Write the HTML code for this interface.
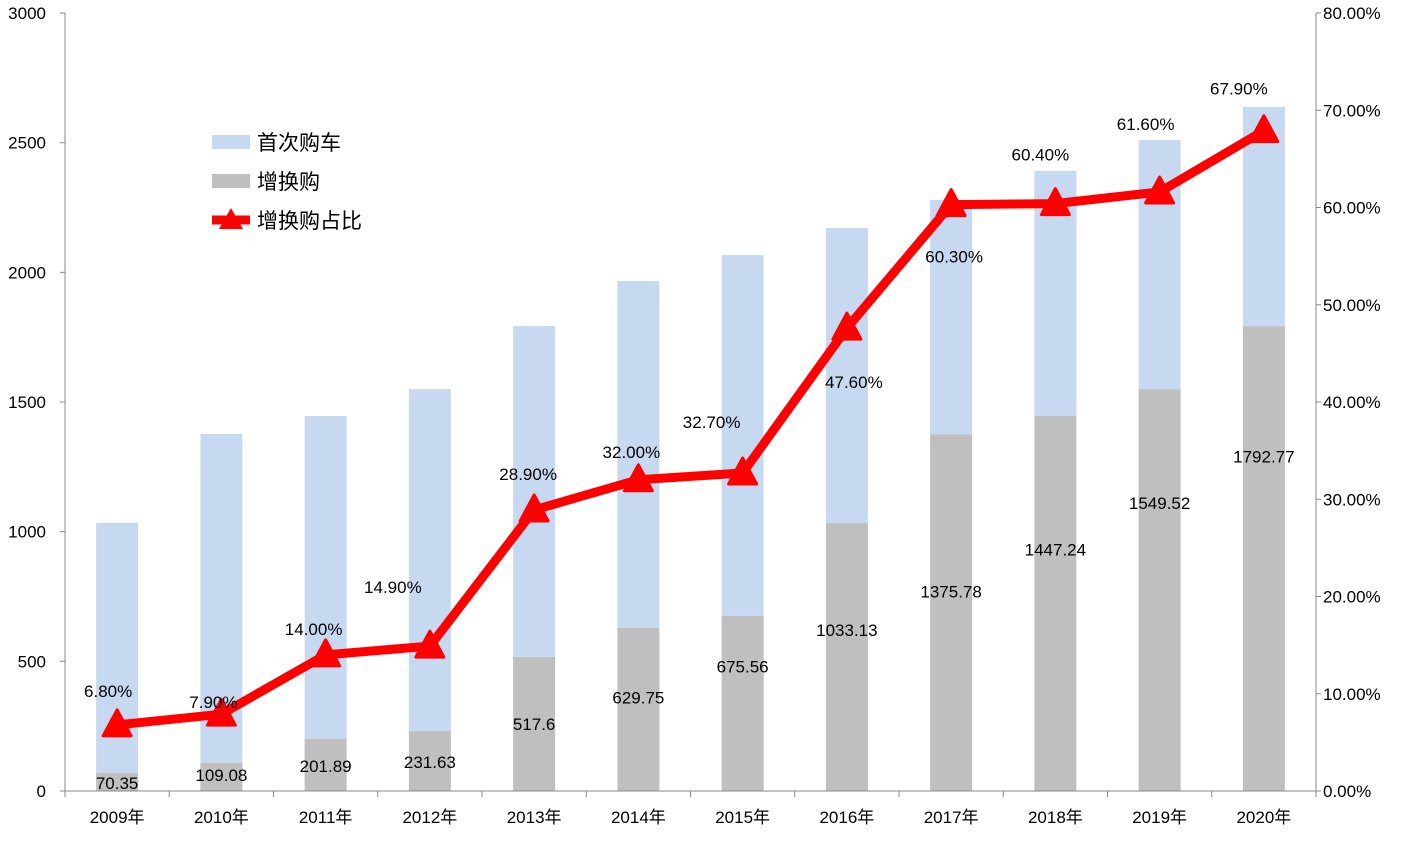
<!DOCTYPE html>
<html><head><meta charset="utf-8"><style>
body{margin:0;background:#fff}
svg{display:block;font-family:"Liberation Sans","Noto Sans CJK SC",sans-serif}
</style></head><body>
<svg id="c" width="1406" height="845"></svg>
<script>
const categories=["2009年","2010年","2011年","2012年","2013年","2014年","2015年","2016年","2017年","2018年","2019年","2020年"];
const replaceVals=[70.35,109.08,201.89,231.63,517.6,629.75,675.56,1033.13,1375.78,1447.24,1549.52,1792.77];
const firstVals=[964,1268,1244,1318,1275,1337,1391,1138,903,944,961,845];
const shareVals=[6.8,7.9,14.0,14.9,28.9,32.0,32.7,47.6,60.3,60.4,61.6,67.9];
const leftTicks=[0,500,1000,1500,2000,2500,3000];
const rightTicks=[0,10,20,30,40,50,60,70,80];
const lblDx=[-9,-8,-12,-37,-6,-7,-31,7,3,-15,-14,-25];
const lblDy=[-34,-12,-26,-59,-36,-28,-51,54,52,-49,-68,-42];
const barLblDy=[1,-2,1,1,0,-12,-37,-27,-21,-54,-87,-102];
const NS="http://www.w3.org/2000/svg";
const svg=document.getElementById('c');
const X0=65,X1=1316,Y0=791,Y1=13;
const bw=(X1-X0)/categories.length;
const xc=i=>X0+bw*(i+0.5);
const yL=v=>Y0-(v/3000)*(Y0-Y1);
const yR=v=>Y0-(v/80)*(Y0-Y1);
function el(t,a,txt){const e=document.createElementNS(NS,t);for(const k in a)e.setAttribute(k,a[k]);if(txt!=null)e.textContent=txt;svg.appendChild(e);return e;}
categories.forEach((c,i)=>{
 const r=el('rect',{x:xc(i)-21,y:yL(replaceVals[i]),width:42,height:Y0-yL(replaceVals[i]),fill:'#bfbfbf'});
 
 
 const tot=replaceVals[i]+firstVals[i];
 const f=el('rect',{x:xc(i)-21,y:yL(tot),width:42,height:yL(replaceVals[i])-yL(tot),fill:'#c6d9f1'});
 
 
});
el('line',{x1:X0,y1:Y1,x2:X0,y2:Y0,stroke:'#888'});
el('line',{x1:X1,y1:Y1,x2:X1,y2:Y0,stroke:'#888'});
el('line',{x1:X0,y1:Y0,x2:X1,y2:Y0,stroke:'#888'});
for(let i=0;i<=categories.length;i++)el('line',{x1:X0+bw*i,y1:Y0,x2:X0+bw*i,y2:Y0+6,stroke:'#888'});
leftTicks.forEach(v=>{el('line',{x1:X0-5,y1:yL(v),x2:X0,y2:yL(v),stroke:'#888'});
 const t=el('text',{x:46,y:yL(v)+6,'text-anchor':'end','font-size':17},v);
 });
rightTicks.forEach(v=>{el('line',{x1:X1,y1:yR(v),x2:X1+5,y2:yR(v),stroke:'#888'});
 const t=el('text',{x:1323,y:yR(v)+6,'font-size':17},v.toFixed(2)+'%');
 });
categories.forEach((c,i)=>{const t=el('text',{x:xc(i),y:823,'text-anchor':'middle','font-size':17},c);
 });
categories.forEach((c,i)=>{const t=el('text',{x:xc(i),y:(yL(replaceVals[i])+Y0)/2+barLblDy[i]+6,'text-anchor':'middle','font-size':17},replaceVals[i]);
 });
const pts=shareVals.map((v,i)=>xc(i)+','+yR(v)).join(' ');
const pl=el('polyline',{points:pts,fill:'none',stroke:'#ff0000','stroke-width':9,'stroke-linejoin':'round'});


shareVals.forEach((v,i)=>{const x=xc(i),y=yR(v);
 const m=el('polygon',{points:`${x},${y-15} ${x-14},${y+11} ${x+14},${y+11}`,fill:'#ff0000',stroke:'#ff0000','stroke-width':3,'stroke-linejoin':'round'});
 
 
 const t=el('text',{x:x+lblDx[i],y:y+lblDy[i]+6,'text-anchor':'middle','font-size':17},v.toFixed(2)+'%');
 
});
const lg=[['首次购车','#c6d9f1'],['增换购','#bfbfbf']];
lg.forEach((l,k)=>{const y=142+39*k;
 el('rect',{x:212,y:y-7,width:38,height:14,fill:l[1]});
 el('text',{x:257,y:y+8,'font-size':21},l[0]);});
el('line',{x1:212,y1:220,x2:250,y2:220,stroke:'#ff0000','stroke-width':9});
el('polygon',{points:'231,208 219,229 243,229',fill:'#ff0000'});
el('text',{x:257,y:228,'font-size':21},'增换购占比');
</script>
</body></html>
